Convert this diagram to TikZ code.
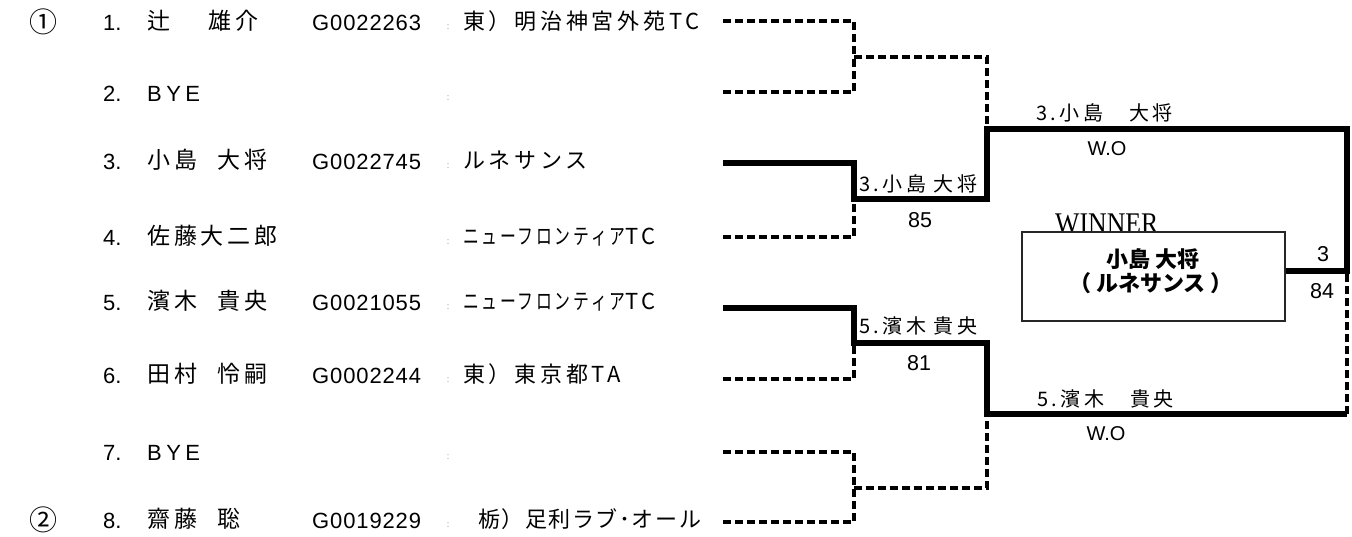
\documentclass[tikz,border=0pt]{standalone}
\usepackage{fontspec}
\setmainfont{Liberation Sans}
\newfontfamily\jp{Noto Sans CJK JP}
\newfontfamily\jpls[LetterSpace=17]{Noto Sans CJK JP}
\newfontfamily\jplt[LetterSpace=7]{Noto Sans CJK JP}
\newfontfamily\lsls[LetterSpace=4]{Liberation Sans}
\newfontfamily\lsbye[LetterSpace=20]{Liberation Sans}
\newfontfamily\serifw{Liberation Serif}
\begin{document}
\begin{tikzpicture}[x=1pt,y=-1pt,
  dline/.style={line width=3.4pt, dash pattern=on 8pt off 4pt},
  tline/.style={line width=5.8pt},
  num/.style={anchor=base west, inner sep=0pt, font=\fontsize{22}{26}\selectfont},
  nm/.style={anchor=base west, inner sep=0pt, font=\jpls\fontsize{23}{26}\selectfont},
  idt/.style={anchor=base west, inner sep=0pt, font=\lsls\fontsize{22}{26}\selectfont},
  colon/.style={anchor=base, inner sep=0pt, text=black!45, font=\fontsize{9}{10}\selectfont},
  club/.style={anchor=base west, inner sep=0pt, font=\jpls\fontsize{22}{26}\selectfont},
  circ/.style={anchor=base, inner sep=0pt, font=\jp\fontsize{28}{30}\selectfont},
  blab/.style={anchor=base west, inner sep=0pt, font=\jpls\fontsize{20}{24}\selectfont},
  score/.style={anchor=base, inner sep=0pt, font=\fontsize{21.5}{24}\selectfont},
]
\useasboundingbox (0,0) rectangle (1352,536);

% circled seeds
\node[circ] (o1) at (43,32) {①};
\node[circ] (o2) at (43,530) {②};

% row 1
\node[num] (n1) at (103,30) {1.};
\node[nm] (m1) at (147,29) {\makebox[61pt][l]{辻}雄介};
\node[idt] (g1) at (312,30) {G0022263};
\node[colon] (c1) at (448,29) {:};
\node[club] (k1) at (463,29) {東）明治神宮外苑TC};
% row 2
\node[num] (n2) at (103,101) {2.};
\node[num] (m2) at (147,101) {\lsbye BYE};
\node[colon] (c2) at (448,100) {:};
% row 3
\node[num] (n3) at (103,169) {3.};
\node[nm] (m3) at (147,168) {\makebox[70pt][l]{小島}大将};
\node[idt] (g3) at (312,169) {G0022745};
\node[colon] (c3) at (448,168) {:};
\node[club] (k3) at (463,168) {ルネサンス};
% row 4
\node[num] (n4) at (103,245) {4.};
\node[nm] (m4) at (147,244) {佐藤大二郎};
\node[colon] (c4) at (448,244) {:};
\node[club] (k4) at (463,244) {\scalebox{0.72}[1]{ニューフロンティア}TC};
% row 5
\node[num] (n5) at (103,310) {5.};
\node[nm] (m5) at (147,309) {\makebox[70pt][l]{濱木}貴央};
\node[idt] (g5) at (312,310) {G0021055};
\node[colon] (c5) at (448,309) {:};
\node[club] (k5) at (463,309) {\scalebox{0.72}[1]{ニューフロンティア}TC};
% row 6
\node[num] (n6) at (103,383) {6.};
\node[nm] (m6) at (147,382) {\makebox[70pt][l]{田村}怜嗣};
\node[idt] (g6) at (312,383) {G0002244};
\node[colon] (c6) at (448,382) {:};
\node[club] (k6) at (463,382) {東）東京都TA};
% row 7
\node[num] (n7) at (103,460) {7.};
\node[num] (m7) at (147,460) {\lsbye BYE};
\node[colon] (c7) at (448,459) {:};
% row 8
\node[num] (n8) at (103,528) {8.};
\node[nm] (m8) at (147,527) {\makebox[70pt][l]{齋藤}聡};
\node[idt] (g8) at (312,528) {G0019229};
\node[colon] (c8) at (448,527) {:};
\node[club] (k8) at (478,527) {\jplt 栃）足利ラブ･オール};

% bracket coordinates
\coordinate (p1) at (723,21);
\coordinate (p2) at (723,92);
\coordinate (p3) at (723,163);
\coordinate (p4) at (723,237);
\coordinate (p5) at (723,308);
\coordinate (p6) at (723,379);
\coordinate (p7) at (723,452);
\coordinate (p8) at (723,522);
\coordinate (j12) at (854,57);
\coordinate (j34) at (854,199);
\coordinate (j56) at (854,343);
\coordinate (j78) at (854,488);
\coordinate (s1) at (987,129);
\coordinate (s2) at (987,414);
\coordinate (f) at (1347,271);
\coordinate (s2r) at (1347,414);

% losers (dashed)
\draw[dline] (p1) -| (j12);
\draw[dline] (p2) -| (j12);
\draw[dline] (j12) -| (s1);
\draw[dline] (p4) -| (j34);
\draw[dline] (p6) -| (j56);
\draw[dline] (p7) -| (j78);
\draw[dline] (p8) -| (j78);
\draw[dline] (j78) -| (s2);
\draw[dline] (s2r) -- (f);

% WINNER label and box
\node[anchor=base west, inner sep=0pt, font=\serifw\fontsize{30}{32}\selectfont] (wl) at (1055,233) {\scalebox{0.86}[1]{WINNER}};
\node[draw=black!85, line width=1.3pt, fill=white, minimum width=263pt, minimum height=89pt, inner sep=0pt] (win) at (1153.5,276.5) {};
\node[anchor=center, inner sep=0pt, font=\jp\bfseries\fontsize{22}{24}\selectfont] (wn) at (1153,259) {小島 大将};
\node[anchor=center, inner sep=0pt, font=\jp\bfseries\fontsize{22}{24}\selectfont] (wc) at (1151,283) {（ ルネサンス ）};

% winners (thick)
\draw[tline] (p3) -| (j34) -| (s1) -| (f) -- (f -| win.east);
\draw[tline] (p5) -| (j56) -| (s2) -- (s2r);

% bracket labels
\node[blab] (b1) at (859,191) {3.小島 大将};
\node[score] (sc1) at (920,227) {85};
\node[blab] (b2) at (859,333) {5.濱木 貴央};
\node[score] (sc2) at (919,370) {81};
\node[blab] (b3) at (1036,120) {3.小島\hspace{26pt}大将};
\node[score, font=\fontsize{20}{24}\selectfont] (sc3) at (1107,155) {W.O};
\node[blab] (b4) at (1037,406) {5.濱木\hspace{26pt}貴央};
\node[score, font=\fontsize{20}{24}\selectfont] (sc4) at (1106,440) {W.O};
\node[score] (sc5) at (1323,261) {3};
\node[score] (sc6) at (1322,298) {84};
\end{tikzpicture}
\end{document}
